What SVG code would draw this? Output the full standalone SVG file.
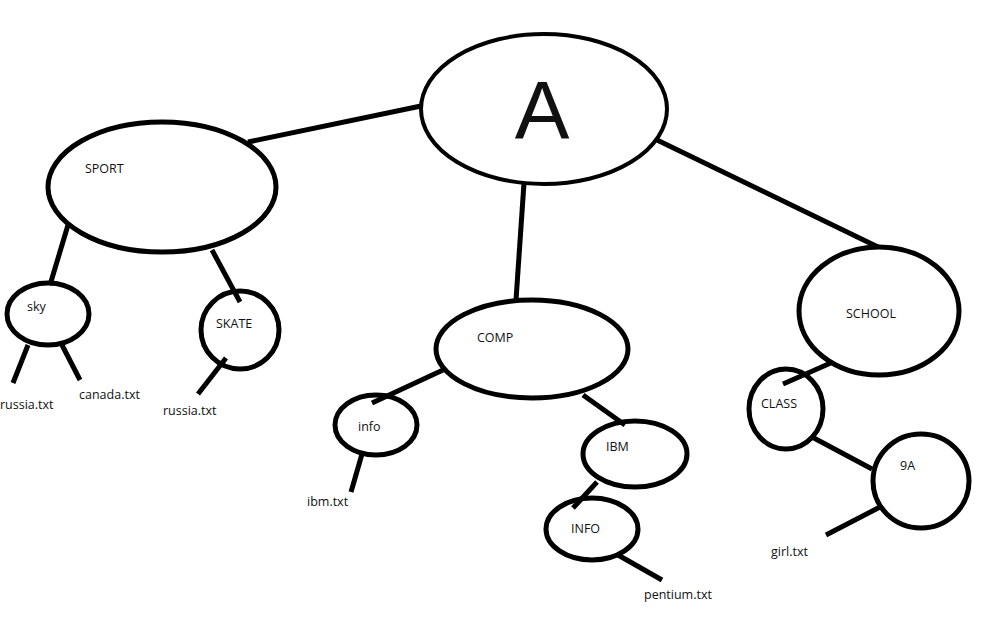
<svg xmlns="http://www.w3.org/2000/svg" width="1008" height="630" viewBox="0 0 1008 630">
<style>
.n{fill:none;stroke:#000;stroke-width:5}
.c{stroke:#000;stroke-width:5;stroke-linecap:butt}
text{font-family:"Open Sans","Noto Sans","DejaVu Sans",sans-serif;font-size:12.5px;fill:#111}
</style>
<rect width="1008" height="630" fill="#fff"/>
<g id="connectors">
<line class="c" x1="248" y1="142" x2="421" y2="106"/>
<line class="c" x1="524" y1="183" x2="516" y2="300"/>
<line class="c" x1="657" y1="140" x2="878" y2="247"/>
<line class="c" x1="68" y1="225" x2="50" y2="285"/>
<line class="c" x1="28" y1="345" x2="13" y2="383"/>
<line class="c" x1="62" y1="345" x2="80" y2="380"/>
<line class="c" x1="212" y1="250" x2="240" y2="302"/>
<line class="c" x1="226" y1="358" x2="198" y2="394"/>
<line class="c" x1="443" y1="370" x2="372" y2="403"/>
<line class="c" x1="362" y1="454" x2="351" y2="492"/>
<line class="c" x1="583" y1="395" x2="625" y2="425"/>
<line class="c" x1="597" y1="482" x2="573" y2="508"/>
<line class="c" x1="618" y1="555" x2="662" y2="580"/>
<line class="c" x1="833" y1="362" x2="783" y2="384"/>
<line class="c" x1="812" y1="437" x2="872" y2="469"/>
<line class="c" x1="880" y1="507" x2="826" y2="535"/>
</g>
<g id="A"><ellipse class="n" cx="544" cy="109" rx="123" ry="75" style="stroke-width:4"/><text x="542" y="138" text-anchor="middle" style="font-size:82px;font-family:'Liberation Sans','Open Sans',sans-serif">A</text></g>
<g id="SPORT"><ellipse class="n" cx="162" cy="187" rx="114" ry="65"/><text x="85" y="173">SPORT</text></g>
<g id="sky"><ellipse class="n" cx="48" cy="314" rx="41" ry="31"/><text x="27" y="311">sky</text></g>
<g id="russia1"><text x="0" y="409">russia.txt</text></g>
<g id="canada"><text x="79" y="399">canada.txt</text></g>
<g id="SKATE"><ellipse class="n" cx="240" cy="330" rx="39" ry="39"/><text x="216" y="328">SKATE</text></g>
<g id="russia2"><text x="163" y="415">russia.txt</text></g>
<g id="COMP"><ellipse class="n" cx="532" cy="349" rx="96" ry="49"/><text x="477" y="342">COMP</text></g>
<g id="info"><ellipse class="n" cx="376" cy="425" rx="41" ry="30"/><text x="358" y="431">info</text></g>
<g id="ibmtxt"><text x="307" y="506">ibm.txt</text></g>
<g id="IBM"><ellipse class="n" cx="635" cy="454" rx="52" ry="33"/><text x="606" y="451">IBM</text></g>
<g id="INFO"><ellipse class="n" cx="592" cy="529" rx="46" ry="31"/><text x="571" y="533">INFO</text></g>
<g id="pentium"><text x="644" y="599">pentium.txt</text></g>
<g id="SCHOOL"><ellipse class="n" cx="879" cy="311" rx="80" ry="64"/><text x="846" y="318">SCHOOL</text></g>
<g id="CLASS"><ellipse class="n" cx="786" cy="409" rx="37" ry="40"/><text x="761" y="408">CLASS</text></g>
<g id="nineA"><ellipse class="n" cx="921" cy="481" rx="48" ry="47"/><text x="900" y="470">9A</text></g>
<g id="girl"><text x="771" y="556">girl.txt</text></g>
</svg>
